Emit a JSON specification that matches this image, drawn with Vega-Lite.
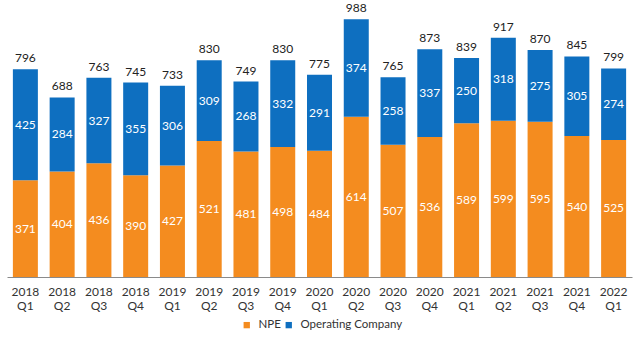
{
  "$schema": "https://vega.github.io/schema/vega-lite/v6.json",
  "width": 625,
  "height": 261,
  "autosize": {"type": "none"},
  "padding": {"left": 7, "top": 16, "right": 8, "bottom": 60},
  "config": {"view": {"stroke": null}, "font": "Lato", "text": {"font": "Lato"}},
  "data": {"values": [
    {"q": "2018 Q1", "type": "NPE", "value": 371}, {"q": "2018 Q1", "type": "Operating Company", "value": 425},
    {"q": "2018 Q2", "type": "NPE", "value": 404}, {"q": "2018 Q2", "type": "Operating Company", "value": 284},
    {"q": "2018 Q3", "type": "NPE", "value": 436}, {"q": "2018 Q3", "type": "Operating Company", "value": 327},
    {"q": "2018 Q4", "type": "NPE", "value": 390}, {"q": "2018 Q4", "type": "Operating Company", "value": 355},
    {"q": "2019 Q1", "type": "NPE", "value": 427}, {"q": "2019 Q1", "type": "Operating Company", "value": 306},
    {"q": "2019 Q2", "type": "NPE", "value": 521}, {"q": "2019 Q2", "type": "Operating Company", "value": 309},
    {"q": "2019 Q3", "type": "NPE", "value": 481}, {"q": "2019 Q3", "type": "Operating Company", "value": 268},
    {"q": "2019 Q4", "type": "NPE", "value": 498}, {"q": "2019 Q4", "type": "Operating Company", "value": 332},
    {"q": "2020 Q1", "type": "NPE", "value": 484}, {"q": "2020 Q1", "type": "Operating Company", "value": 291},
    {"q": "2020 Q2", "type": "NPE", "value": 614}, {"q": "2020 Q2", "type": "Operating Company", "value": 374},
    {"q": "2020 Q3", "type": "NPE", "value": 507}, {"q": "2020 Q3", "type": "Operating Company", "value": 258},
    {"q": "2020 Q4", "type": "NPE", "value": 536}, {"q": "2020 Q4", "type": "Operating Company", "value": 337},
    {"q": "2021 Q1", "type": "NPE", "value": 589}, {"q": "2021 Q1", "type": "Operating Company", "value": 250},
    {"q": "2021 Q2", "type": "NPE", "value": 599}, {"q": "2021 Q2", "type": "Operating Company", "value": 318},
    {"q": "2021 Q3", "type": "NPE", "value": 595}, {"q": "2021 Q3", "type": "Operating Company", "value": 275},
    {"q": "2021 Q4", "type": "NPE", "value": 540}, {"q": "2021 Q4", "type": "Operating Company", "value": 305},
    {"q": "2022 Q1", "type": "NPE", "value": 525}, {"q": "2022 Q1", "type": "Operating Company", "value": 274}
  ]},
  "transform": [
    {"stack": "value", "groupby": ["q"], "sort": [{"field": "type", "order": "ascending"}], "as": ["y0", "y1"]},
    {"calculate": "(datum.y0 + datum.y1) / 2", "as": "ymid"}
  ],
  "encoding": {
    "x": {
      "field": "q", "type": "nominal", "sort": null,
      "scale": {"paddingInner": 0.32, "paddingOuter": 0.16},
      "axis": {
        "title": null, "labelAngle": 0, "ticks": false,
        "labelExpr": "split(datum.label, ' ')",
        "labelFontSize": 12, "labelColor": "#333333", "labelLineHeight": 14,
        "labelPadding": 9, "domainColor": "#8a8a8a", "domainWidth": 1
      }
    }
  },
  "layer": [
    {
      "mark": {"type": "bar"},
      "encoding": {
        "y": {"field": "y0", "type": "quantitative", "scale": {"domain": [0, 1000], "nice": false}, "axis": null},
        "y2": {"field": "y1"},
        "color": {
          "field": "type", "type": "nominal",
          "scale": {"domain": ["NPE", "Operating Company"], "range": ["#F48C1F", "#0E6FC0"]},
          "legend": {
            "title": null, "orient": "none", "direction": "horizontal",
            "legendX": 234, "legendY": 303,
            "symbolType": "square", "symbolSize": 40, "symbolStrokeWidth": 0,
            "labelFontSize": 11.5, "labelColor": "#333333", "columnPadding": 2, "labelOffset": 6
          }
        }
      }
    },
    {
      "mark": {"type": "text", "color": "white", "fontSize": 12, "baseline": "middle"},
      "encoding": {
        "y": {"field": "ymid", "type": "quantitative"},
        "text": {"field": "value", "type": "quantitative"}
      }
    },
    {
      "transform": [{"aggregate": [{"op": "sum", "field": "value", "as": "total"}], "groupby": ["q"]}],
      "mark": {"type": "text", "color": "#222222", "fontSize": 12, "baseline": "bottom", "dy": -4},
      "encoding": {
        "y": {"field": "total", "type": "quantitative"},
        "text": {"field": "total", "type": "quantitative"}
      }
    }
  ]
}
